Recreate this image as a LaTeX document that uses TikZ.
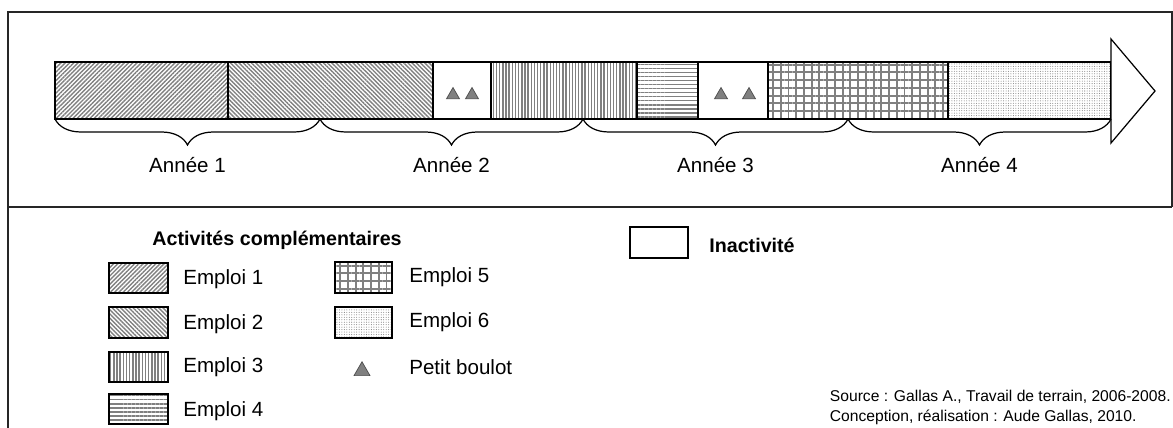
\documentclass[tikz,border=0pt]{standalone}
\usepackage{fontspec}
\setmainfont{Liberation Sans}
\usetikzlibrary{patterns.meta,decorations.pathreplacing,shapes.geometric,calc}

\begin{document}
\begin{tikzpicture}[x=0.02cm, y=-0.02cm,
  every node/.style={font=\fontsize{11.7}{14}\selectfont, inner sep=0pt},
  frame/.style={draw=black!85, line width=0.8pt},
  seg/.style={draw=black, line width=1pt},
  legbox/.style={draw=black, line width=1pt},
  yearbrace/.style={decorate, decoration={brace, mirror, amplitude=14.8pt},
                    draw=black, line width=0.7pt},
  hatchA/.style={fill=gray!15, pattern={Lines[angle=45, distance=1.7pt, line width=0.8pt]}, pattern color=gray},
  hatchB/.style={fill=gray!15, pattern={Lines[angle=-45, distance=1.7pt, line width=0.8pt]}, pattern color=gray},
  hatchC/.style={fill=gray!15, pattern={Lines[angle=90, distance=1.8pt, line width=0.8pt]}, pattern color=gray},
  hatchD/.style={fill=gray!15, pattern={Lines[angle=0, distance=2.3pt, line width=0.9pt]}, pattern color=gray},
  hatchE/.style={pattern={Hatch[angle=0, distance=4.4pt, line width=1.1pt]}, pattern color=gray},
  hatchF/.style={pattern={Dots[distance=1.4pt, radius=0.3pt]}, pattern color=gray},
  petit/.style={regular polygon, regular polygon sides=3, fill=gray,
                draw=black!70, line width=0.4pt, minimum size=8.5pt},
  boldlab/.style={font=\fontsize{11.2}{13}\selectfont\bfseries},
  src/.style={font=\fontsize{8.9}{11.4}\selectfont, align=left},
]
\useasboundingbox (0,0) rectangle (1173,428);

%% Frame: upper panel (timeline) and lower panel (legend)
\draw[frame] (8,428) -- (8,12) -- (1172,12) -- (1172,207);
\draw[frame] (8,207) -- (1172,207);

%% Timeline bar (y from 62 to 119)
\draw[seg, hatchA] (55,62) rectangle (228,119);
\draw[seg, hatchB] (228,62) rectangle (433,119);
\draw[seg, fill=white] (433,62) rectangle (491,119);
\draw[seg, hatchC] (491,62) rectangle (637,119);
\draw[seg, hatchD] (637,62) rectangle (698,119);
\draw[seg, fill=white] (698,62) rectangle (768,119);
\draw[seg, hatchE] (768,62) rectangle (948,119);
\draw[seg, hatchF] (948,62) rectangle (1111,119);
\draw[seg, line width=0.7pt, fill=white] (1111,39) -- (1155,91) -- (1111,143) -- cycle;

%% Petits boulots during inactivity
\node[petit] (t1) at (453,95) {};
\node[petit] (t2) at (472,95) {};
\node[petit] (t3) at (721,95) {};
\node[petit] (t4) at (749,95) {};

%% Years
\coordinate (b0) at (55,119);
\coordinate (b1) at (320,119);
\coordinate (b2) at (583,119);
\coordinate (b3) at (848,119);
\coordinate (b4) at (1111,119);
\foreach \ya/\yb/\lab in {b0/b1/1, b1/b2/2, b2/b3/3, b3/b4/4}{
  \draw[yearbrace] (\ya) -- (\yb);
  \node (an\lab) at ($(\ya)!0.5!(\yb)+(0,46)$) {Année \lab};
}

%% Legend
\node[boldlab, anchor=west] (titre) at (152,240) {Activités complémentaires};

\draw[legbox, hatchA] (109,263) rectangle (168,293);
\node[anchor=west] (l1) at (183,279) {Emploi 1};
\draw[legbox, hatchB] (109,307) rectangle (168,338);
\node[anchor=west] (l2) at (183,324) {Emploi 2};
\draw[legbox, hatchC] (109,352) rectangle (168,382);
\node[anchor=west] (l3) at (183,367) {Emploi 3};
\draw[legbox, hatchD] (109,394) rectangle (168,424);
\node[anchor=west] (l4) at (183,411) {Emploi 4};

\draw[legbox, hatchE] (335,262) rectangle (392,293);
\node[anchor=west] (l5) at (409,277) {Emploi 5};
\draw[legbox, hatchF] (335,307) rectangle (392,338);
\node[anchor=west] (l6) at (409,322) {Emploi 6};
\node[petit, minimum size=10.5pt] (tleg) at (362,371) {};
\node[anchor=west] (l7) at (409,367) {Petit boulot};

\draw[legbox] (630,227) rectangle (688,258);
\node[boldlab, anchor=west] (inact) at (709,245) {Inactivité};

%% Source
\node[src, anchor=east] (source) at (1171,407)
  {Source : Gallas A., Travail de terrain, 2006-2008.\\Conception, réalisation : Aude Gallas, 2010.};

\end{tikzpicture}
\end{document}
